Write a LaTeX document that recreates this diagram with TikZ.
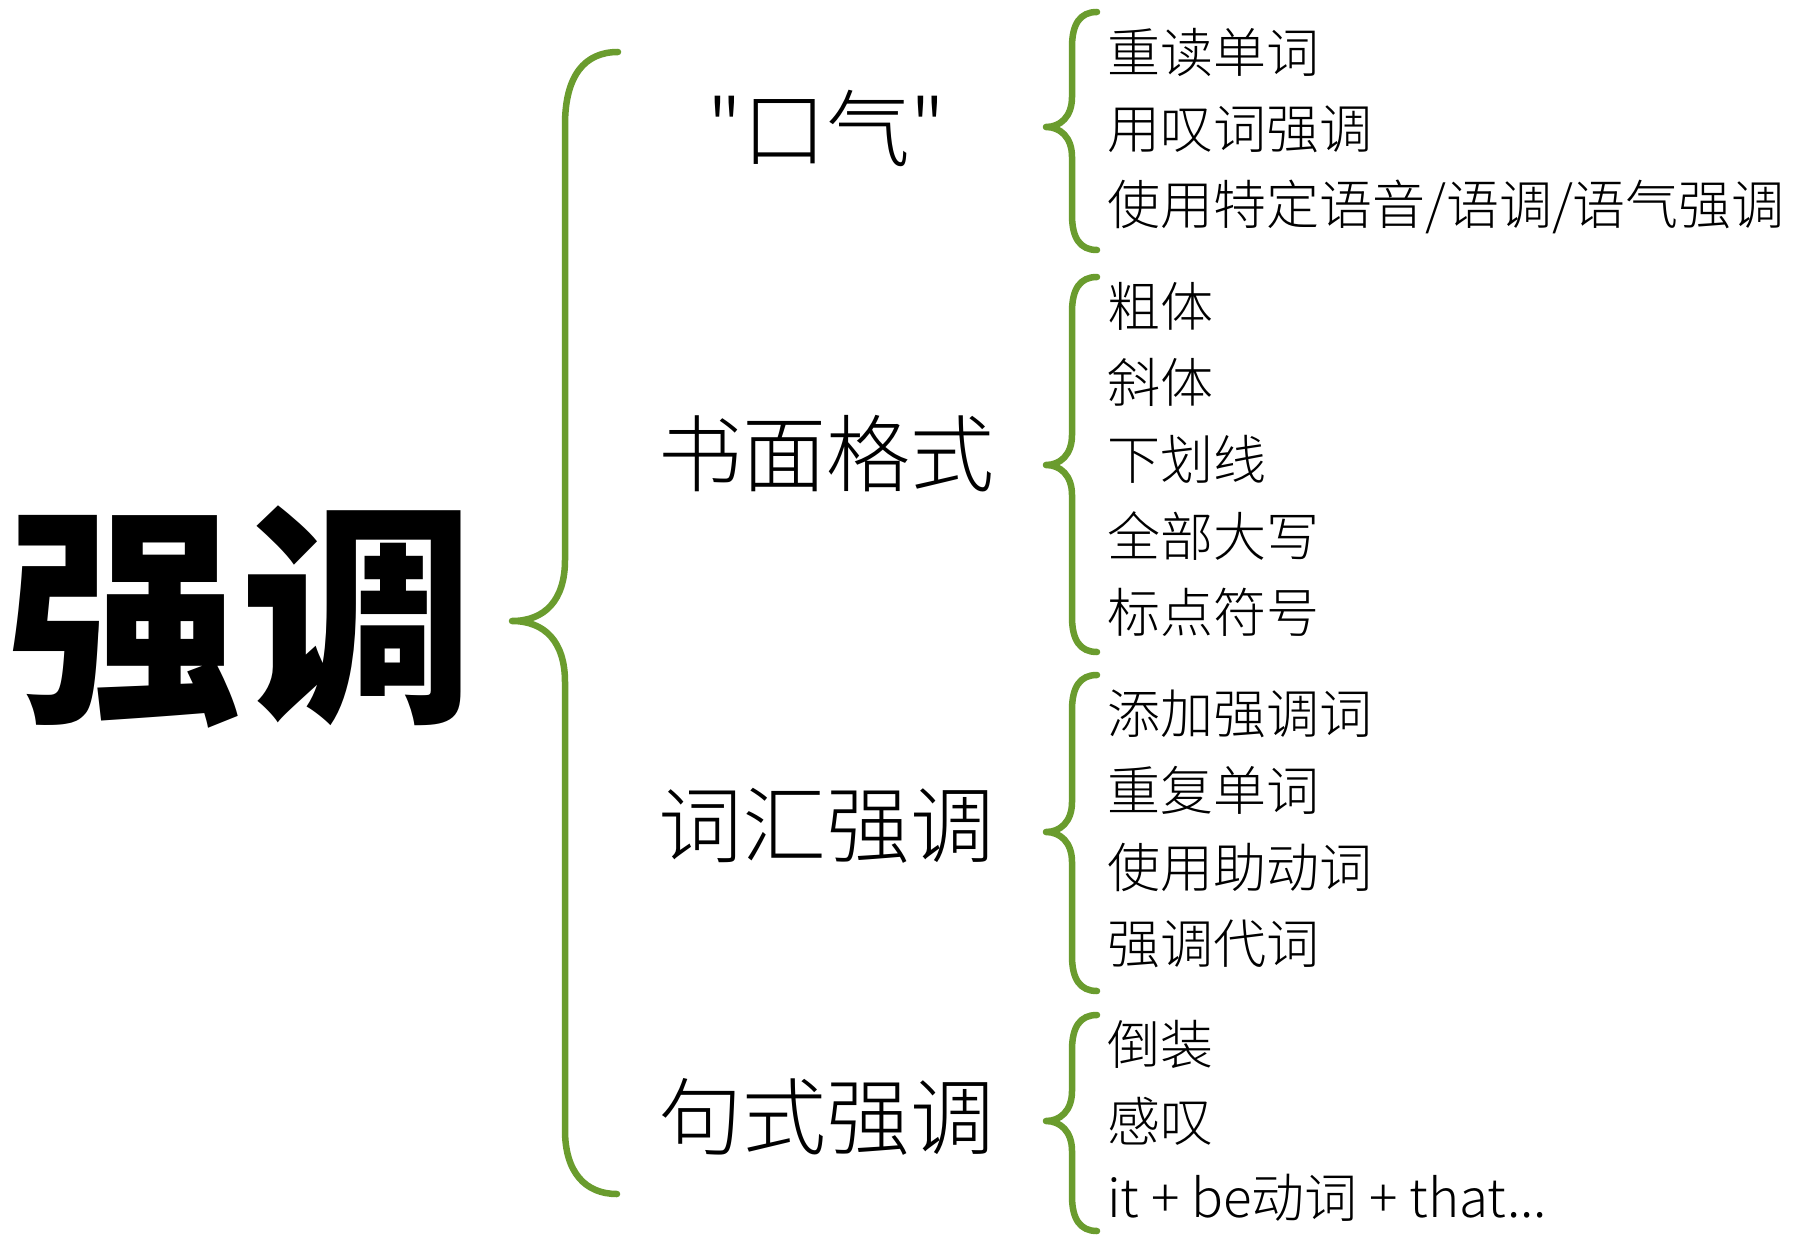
\documentclass[tikz,border=0pt]{standalone}
\usepackage{fontspec}
\newfontfamily\cjk{Noto Sans CJK SC}
\newfontfamily\cjklight{Noto Sans CJK SC Light}
\definecolor{bracegreen}{RGB}{106,156,46}
\tikzset{
  bracestyle/.style={draw=bracegreen, line width=6.5pt, line cap=round, line join=round},
  bigtitle/.style={inner sep=0pt, font=\cjk\bfseries\fontsize{234}{234}\selectfont},
  catlabel/.style={inner sep=0pt, font=\cjklight\fontsize{84}{84}\selectfont},
  itemtext/.style={anchor=west, inner sep=0pt, font=\cjklight\fontsize{53}{53}\selectfont}
}
\newcommand{\smallbrace}[3]{%
  \draw[bracestyle] (1097,#1) .. controls (1080,#1) and (1072,#1+12) .. (1072,#1+35)
    -- (1072,#2-30) .. controls (1072,#2-10) and (1060,#2) .. (1046,#2)
    .. controls (1060,#2) and (1072,#2+10) .. (1072,#2+30)
    -- (1072,#3-35) .. controls (1072,#3-12) and (1080,#3) .. (1097,#3);}
\begin{document}
\begin{tikzpicture}[x=1pt,y=-1pt]
\useasboundingbox[fill=white] (0,0) rectangle (1812,1246);
% main title
\node[bigtitle] (title) at (241,617) {强调};
% big brace
\coordinate (bigtip) at (512,621);
\draw[bracestyle] (618,52) .. controls (585,52) and (565,75) .. (565,125)
  -- (565,560) .. controls (565,600) and (545,621) .. (bigtip)
  .. controls (545,621) and (565,642) .. (565,682)
  -- (565,1130) .. controls (565,1172) and (585,1194) .. (617,1194);
% categories
\node[catlabel] (c1) at (826,128) {"口气"};
\node[catlabel] (c2) at (826,454) {书面格式};
\node[catlabel] (c3) at (826,826) {词汇强调};
\node[catlabel] (c4) at (826,1117) {句式强调};
% small braces
\smallbrace{12}{127}{250}
\smallbrace{277}{465}{652}
\smallbrace{675}{832}{991}
\smallbrace{1015}{1121}{1231}
% items group 1
\node[itemtext] (i11) at (1107,52) {重读单词};
\node[itemtext] (i12) at (1107,129) {用叹词强调};
\node[itemtext] (i13) at (1107,207) {使用特定语音/语调/语气强调};
% group 2
\node[itemtext] (i21) at (1107,306) {粗体};
\node[itemtext] (i22) at (1107,382) {斜体};
\node[itemtext] (i23) at (1107,459) {下划线};
\node[itemtext] (i24) at (1107,536) {全部大写};
\node[itemtext] (i25) at (1107,612) {标点符号};
% group 3
\node[itemtext] (i31) at (1107,714) {添加强调词};
\node[itemtext] (i32) at (1107,790) {重复单词};
\node[itemtext] (i33) at (1107,867) {使用助动词};
\node[itemtext] (i34) at (1107,944) {强调代词};
% group 4
\node[itemtext] (i41) at (1107,1044) {倒装};
\node[itemtext] (i42) at (1107,1121) {感叹};
\node[itemtext] (i43) at (1107,1198) {it + be动词 + that...};
\end{tikzpicture}
\end{document}
